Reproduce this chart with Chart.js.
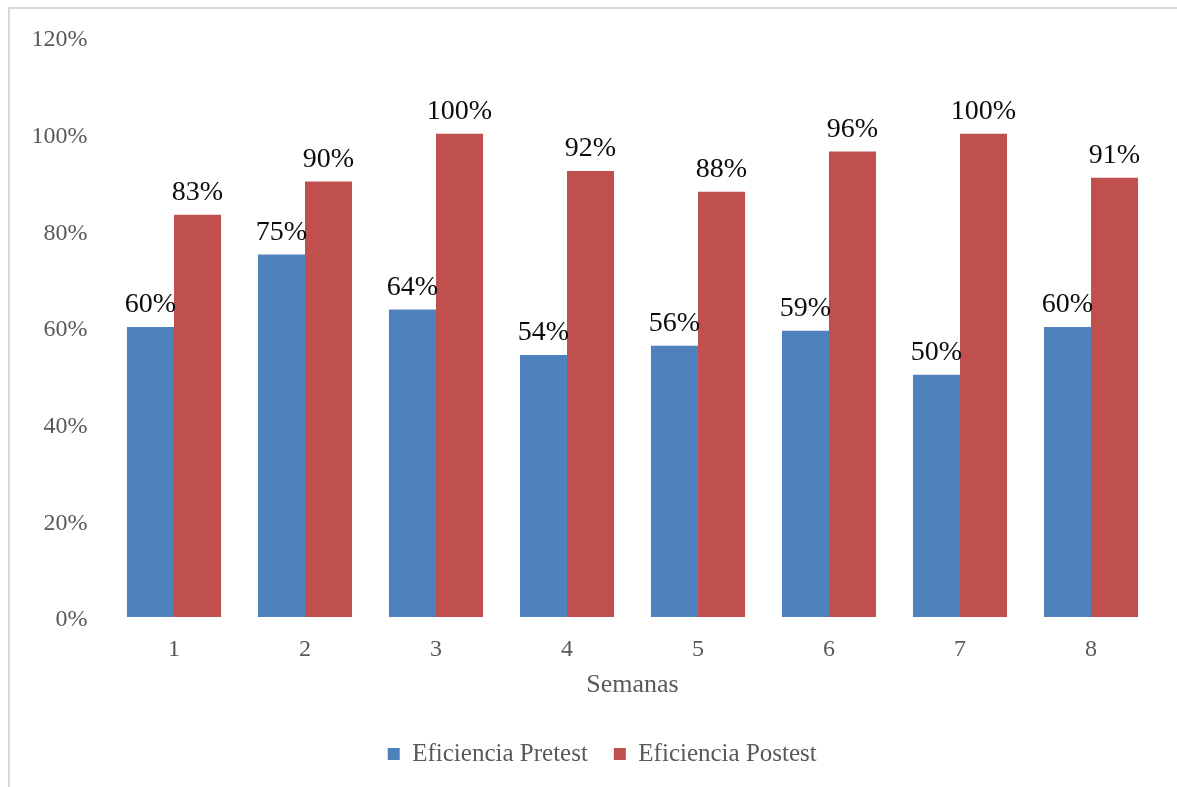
<!DOCTYPE html>
<html lang="es">
<head>
<meta charset="utf-8">
<title>Eficiencia Pretest vs Postest</title>
<script src="https://cdn.jsdelivr.net/npm/chart.js@4.4.1/dist/chart.umd.min.js"></script>
<style>
  html, body {
    margin: 0;
    padding: 0;
    background: #ffffff;
    overflow: hidden;
  }
  .chart-frame {
    position: absolute;
    left: 8px;
    top: 7px;
    width: 1200px;
    height: 820px;
    border: 2px solid #d9d9d9;
    box-sizing: border-box;
  }
  .chart-box {
    position: absolute;
    left: 0;
    top: 0;
    width: 1177px;
    height: 787px;
  }
</style>
</head>
<body>
<div class="chart-frame"></div>
<div class="chart-box">
  <canvas id="eficienciaChart"></canvas>
</div>
<script>
const semanas = ["1", "2", "3", "4", "5", "6", "7", "8"];
const eficienciaPretest = [0.60, 0.75, 0.636, 0.542, 0.561, 0.592, 0.501, 0.60];
const eficienciaPostest = [0.832, 0.901, 1.00, 0.923, 0.88, 0.963, 1.00, 0.909];
const yTicks = [0, 0.2, 0.4, 0.6, 0.8, 1.0, 1.2];

const serifFont = "'Liberation Serif', 'DejaVu Serif', serif";
const tickColor = "#595959";

const barLabelPlugin = {
  id: "barLabels",
  afterDatasetsDraw(chart) {
    const ctx = chart.ctx;
    ctx.save();
    ctx.font = `28px ${serifFont}`;
    ctx.fillStyle = "#0d0d0d";
    ctx.textAlign = "center";
    ctx.textBaseline = "alphabetic";
    chart.data.datasets.forEach((dataset, i) => {
      const meta = chart.getDatasetMeta(i);
      meta.data.forEach((bar, j) => {
        const text = `${Math.round(dataset.data[j] * 100)}%`;
        ctx.fillText(text, bar.x, bar.y - 15);
      });
    });
    ctx.restore();
  }
};

// the legend sits centred under the bars, not under the whole canvas
const legendShiftPlugin = {
  id: "legendShift",
  afterLayout(chart) {
    if (chart.legend) {
      chart.legend.left += 19;
      chart.legend.right += 19;
    }
  }
};

new Chart(document.getElementById("eficienciaChart"), {
  type: "bar",
  data: {
    labels: semanas,
    datasets: [
      {
        label: "Eficiencia Pretest",
        data: eficienciaPretest,
        backgroundColor: "#4f81bd",
        categoryPercentage: 0.718,
        barPercentage: 1
      },
      {
        label: "Eficiencia Postest",
        data: eficienciaPostest,
        backgroundColor: "#c0504d",
        categoryPercentage: 0.718,
        barPercentage: 1
      }
    ]
  },
  options: {
    responsive: true,
    maintainAspectRatio: false,
    animation: false,
    layout: {
      padding: { top: 37, left: 10, right: 20.5, bottom: 10.5 }
    },
    plugins: {
      tooltip: { enabled: false },
      legend: {
        position: "bottom",
        labels: {
          boxWidth: 12,
          boxHeight: 12,
          padding: 26,
          color: tickColor,
          font: { family: serifFont, size: 25 }
        }
      }
    },
    scales: {
      x: {
        grid: { display: false },
        border: { display: false },
        ticks: {
          color: tickColor,
          padding: 10,
          font: { family: serifFont, size: 24 }
        },
        title: {
          display: true,
          text: "Semanas",
          color: tickColor,
          padding: { top: 0, bottom: 15 },
          font: { family: serifFont, size: 26 }
        },
        afterFit(scale) {
          scale.height = 98.5;
        }
      },
      y: {
        min: 0,
        max: 1.2,
        grid: { display: false },
        border: { display: false },
        afterBuildTicks(scale) {
          scale.ticks = yTicks.map((value) => ({ value }));
        },
        ticks: {
          color: tickColor,
          padding: 13,
          labelOffset: 3,
          font: { family: serifFont, size: 24 },
          callback: (value) => `${Math.round(value * 100)}%`
        },
        afterFit(scale) {
          scale.width = 98.5;
        }
      }
    }
  },
  plugins: [barLabelPlugin, legendShiftPlugin]
});
</script>
</body>
</html>
